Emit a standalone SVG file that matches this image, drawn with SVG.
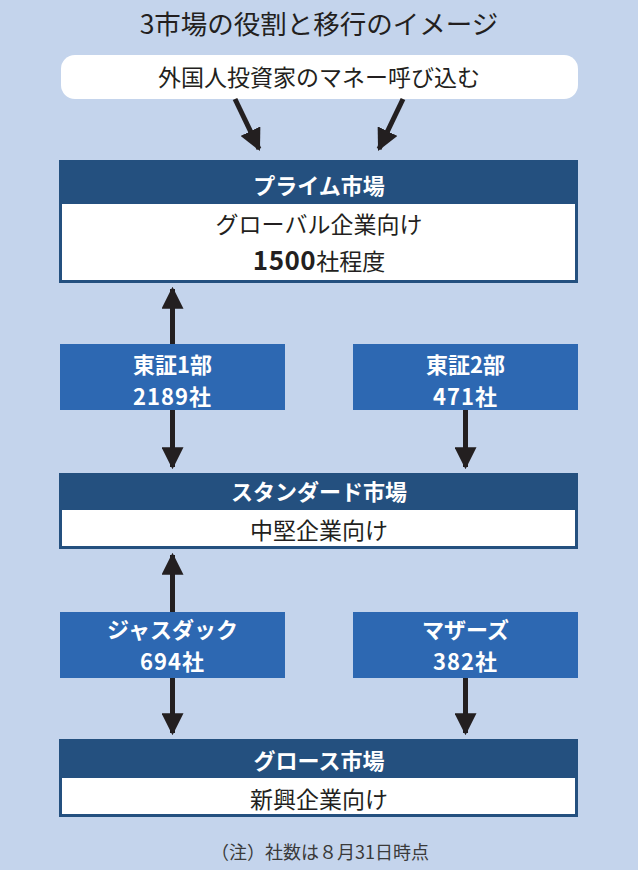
<svg xmlns="http://www.w3.org/2000/svg" width="638" height="870" viewBox="0 0 638 870">
<defs>
<style>
.t{font-family:"Noto Sans CJK JP","Noto Sans",sans-serif;text-anchor:middle}
.hd{fill:#ffffff;font-weight:bold;font-size:22px}
.bd{fill:#231f20;font-size:23px}
.bx{fill:#ffffff;font-weight:bold;font-size:22px}
.nav{fill:#24507f}
.blu{fill:#2d68b2}
.wht{fill:#ffffff}
.ar{stroke:#231f20;stroke-width:5;fill:none}
</style>
<marker id="ah" viewBox="0 0 20 20" refX="18" refY="10" markerWidth="4.4" markerHeight="4.4" markerUnits="strokeWidth" orient="auto-start-reverse">
<path d="M0,0 L20,10 L0,20 Z" fill="#231f20"/>
</marker>
</defs>
<rect x="0" y="0" width="638" height="870" fill="#c4d4ec"/>
<text class="t" x="319" y="34" fill="#231f20" font-size="26.5">3市場の役割と移行のイメージ</text>

<g id="investors">
<rect x="61" y="55" width="517" height="44" rx="14" class="wht"/>
<text class="t bd" x="319" y="86">外国人投資家のマネー呼び込む</text>
</g>

<g id="prime">
<rect x="59" y="160" width="519" height="123" class="nav"/>
<rect x="62" y="204" width="513" height="76" class="wht"/>
<text class="t hd" x="319" y="194">プライム市場</text>
<text class="t bd" x="319" y="233">グローバル企業向け</text>
<text class="t" x="319" y="270" fill="#231f20"><tspan font-weight="bold" font-size="26" letter-spacing="0.5">1500</tspan><tspan font-size="23">社程度</tspan></text>
</g>

<g id="tse1">
<rect x="60" y="344" width="225" height="66" class="blu"/>
<text class="t bx" x="172.5" y="373">東証1部</text>
<text class="t bx" x="172.5" y="405" letter-spacing="1">2189社</text>
</g>

<g id="tse2">
<rect x="353" y="344" width="225" height="66" class="blu"/>
<text class="t bx" x="465.5" y="373">東証2部</text>
<text class="t bx" x="465.5" y="405" letter-spacing="1">471社</text>
</g>

<g id="standard">
<rect x="59" y="473" width="519" height="76" class="nav"/>
<rect x="62" y="510" width="513" height="36" class="wht"/>
<text class="t hd" x="319" y="500">スタンダード市場</text>
<text class="t bd" x="319" y="539">中堅企業向け</text>
</g>

<g id="jasdaq">
<rect x="60" y="612" width="225" height="66" class="blu"/>
<text class="t bx" x="172.5" y="638">ジャスダック</text>
<text class="t bx" x="172.5" y="670" letter-spacing="1">694社</text>
</g>

<g id="mothers">
<rect x="353" y="612" width="225" height="66" class="blu"/>
<text class="t bx" x="465.5" y="638">マザーズ</text>
<text class="t bx" x="465.5" y="670" letter-spacing="1">382社</text>
</g>

<g id="growth">
<rect x="59" y="739" width="519" height="78" class="nav"/>
<rect x="62" y="778" width="513" height="36" class="wht"/>
<text class="t hd" x="319" y="769">グロース市場</text>
<text class="t bd" x="319" y="808">新興企業向け</text>
</g>

<g id="connectors">
<line class="ar" x1="235" y1="99" x2="259" y2="149" marker-end="url(#ah)"/>
<line class="ar" x1="403" y1="99" x2="379" y2="149" marker-end="url(#ah)"/>
<line class="ar" x1="172.5" y1="289" x2="172.5" y2="344" marker-start="url(#ah)"/>
<line class="ar" x1="172.5" y1="410" x2="172.5" y2="467" marker-end="url(#ah)"/>
<line class="ar" x1="465.5" y1="410" x2="465.5" y2="467" marker-end="url(#ah)"/>
<line class="ar" x1="172.5" y1="555" x2="172.5" y2="612" marker-start="url(#ah)"/>
<line class="ar" x1="172.5" y1="678" x2="172.5" y2="733" marker-end="url(#ah)"/>
<line class="ar" x1="465.5" y1="678" x2="465.5" y2="733" marker-end="url(#ah)"/>
</g>

<text class="t" x="320" y="859" fill="#3a3a3a" font-size="18">（注）社数は８月31日時点</text>
</svg>
